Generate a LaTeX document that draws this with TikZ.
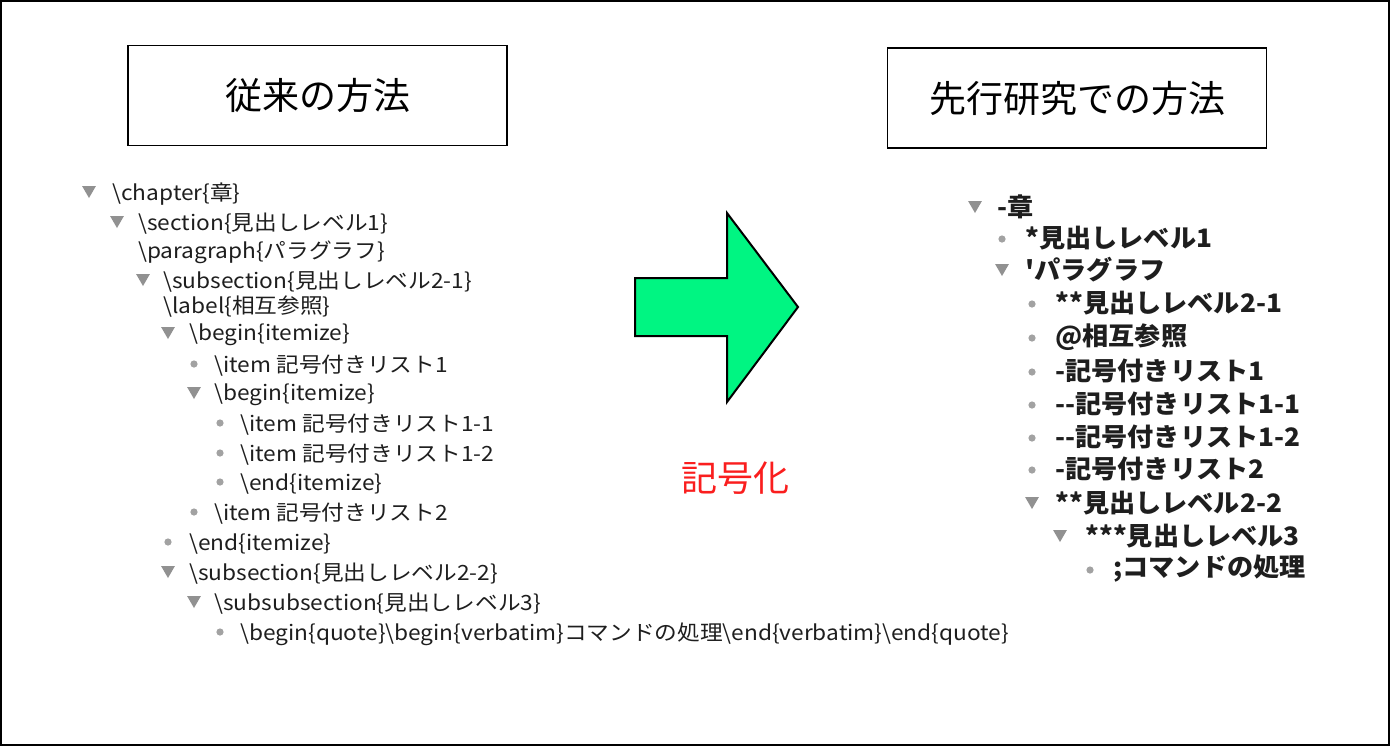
\documentclass[tikz,border=0pt]{standalone}
\usepackage{fontspec}
\setmainfont{Noto Sans CJK JP}
\newfontfamily\jp{Noto Sans CJK JP}
\newfontfamily\jpl[FakeStretch=1.08]{Noto Sans CJK JP}
\newfontfamily\jpr[FakeStretch=1.03]{Noto Sans CJK JP}
\usetikzlibrary{shapes.geometric}
\definecolor{mkgray}{RGB}{145,145,145}
\definecolor{txt}{RGB}{30,30,30}
\definecolor{arrowgreen}{RGB}{0,245,130}
\definecolor{redlabel}{RGB}{250,30,30}
\tikzset{
  tri/.style={regular polygon, regular polygon sides=3, shape border rotate=180, fill=mkgray, draw=none, minimum size=8pt, inner sep=0pt},
  dot/.style={circle, fill=mkgray!85, draw=none, minimum size=3.6pt, inner sep=0pt},
  lt/.style={anchor=west, inner sep=0pt, text=txt, yshift=-1pt, font=\jpl\fontsize{10.5pt}{12pt}\selectfont},
  rt/.style={anchor=west, inner sep=0pt, text=txt, font=\jpr\bfseries\fontsize{12.7pt}{14pt}\selectfont},
  titlebox/.style={draw=black, line width=0.75pt, minimum width=189.5pt, minimum height=50pt, font=\jp\fontsize{18.5pt}{22pt}\selectfont, inner sep=0pt},
}
\newcommand{\bs}{\textbackslash}
\begin{document}
\begin{tikzpicture}[x=0.5pt,y=-0.5pt]
\useasboundingbox (0,0) rectangle (1390,746);
\fill[white] (0,0) rectangle (1390,746);
\draw[line width=1pt] (1,1) rectangle (1389,745);

% title boxes
\node[titlebox] (lbox) at (317.5,95.5) {従来の方法};
\node[titlebox] (rbox) at (1077,98) {先行研究での方法};

% big arrow
\filldraw[fill=arrowgreen, draw=black, line width=1pt, line join=miter]
  (635,278) -- (727,278) -- (727,213) -- (798,307) -- (727,402) -- (727,336) -- (635,336) -- cycle;
\node[anchor=center, text=redlabel, font=\jp\fontsize{18pt}{22pt}\selectfont, inner sep=0pt] (sym) at (735,478) {記号化};

% left tree
\node[tri] (lm1) at (89,190) {};
\node[lt] (l1) at (112,192) {\bs chapter\{章\}};
\node[tri] (lm2) at (117,220) {};
\node[lt] (l2) at (138,222) {\bs section\{見出しレベル1\}};
\node[lt] (l3) at (138,250) {\bs paragraph\{パラグラフ\}};
\node[tri] (lm4) at (143,278) {};
\node[lt] (l4) at (163,280) {\bs subsection\{見出しレベル2-1\}};
\node[lt] (l5) at (163,305) {\bs label\{相互参照\}};
\node[tri] (lm6) at (168,331) {};
\node[lt] (l6) at (189,333) {\bs begin\{itemize\}};
\node[dot] (lm7) at (194,364) {};
\node[lt] (l7) at (214,364) {\bs item 記号付きリスト1};
\node[tri] (lm8) at (194,391) {};
\node[lt] (l8) at (214,393) {\bs begin\{itemize\}};
\node[dot] (lm9) at (220,423) {};
\node[lt] (l9) at (240,423) {\bs item 記号付きリスト1-1};
\node[dot] (lm10) at (220,453) {};
\node[lt] (l10) at (240,453) {\bs item 記号付きリスト1-2};
\node[dot] (lm11) at (220,482) {};
\node[lt] (l11) at (240,482) {\bs end\{itemize\}};
\node[dot] (lm12) at (194,512) {};
\node[lt] (l12) at (214,512) {\bs item 記号付きリスト2};
\node[dot] (lm13) at (168,542) {};
\node[lt] (l13) at (189,542) {\bs end\{itemize\}};
\node[tri] (lm14) at (168,570) {};
\node[lt] (l14) at (189,572) {\bs subsection\{見出しレベル2-2\}};
\node[tri] (lm15) at (194,600) {};
\node[lt] (l15) at (214,602) {\bs subsubsection\{見出しレベル3\}};
\node[dot] (lm16) at (220,632) {};
\node[lt] (l16) at (240,632) {\bs begin\{quote\}\bs begin\{verbatim\}コマンドの処理\bs end\{verbatim\}\bs end\{quote\}};

% right tree
\node[tri] (rm1) at (975,205) {};
\node[rt] (r1) at (997,207) {-章};
\node[dot] (rm2) at (1002,239) {};
\node[rt] (r2) at (1025,238) {*見出しレベル1};
\node[tri] (rm3) at (1002,268) {};
\node[rt] (r3) at (1025,270) {'パラグラフ};
\node[dot] (rm4) at (1032,304) {};
\node[rt] (r4) at (1055,303) {**見出しレベル2-1};
\node[dot] (rm5) at (1032,338) {};
\node[rt] (r5) at (1055,337) {@相互参照};
\node[dot] (rm6) at (1032,372) {};
\node[rt] (r6) at (1055,371) {-記号付きリスト1};
\node[dot] (rm7) at (1032,405) {};
\node[rt] (r7) at (1055,404) {--記号付きリスト1-1};
\node[dot] (rm8) at (1032,438) {};
\node[rt] (r8) at (1055,437) {--記号付きリスト1-2};
\node[dot] (rm9) at (1032,470) {};
\node[rt] (r9) at (1055,469) {-記号付きリスト2};
\node[tri] (rm10) at (1032,501) {};
\node[rt] (r10) at (1055,503) {**見出しレベル2-2};
\node[tri] (rm11) at (1060,534) {};
\node[rt] (r11) at (1085,536) {***見出しレベル3};
\node[dot] (rm12) at (1090,570) {};
\node[rt] (r12) at (1113,569) {;コマンドの処理};
\end{tikzpicture}
\end{document}
